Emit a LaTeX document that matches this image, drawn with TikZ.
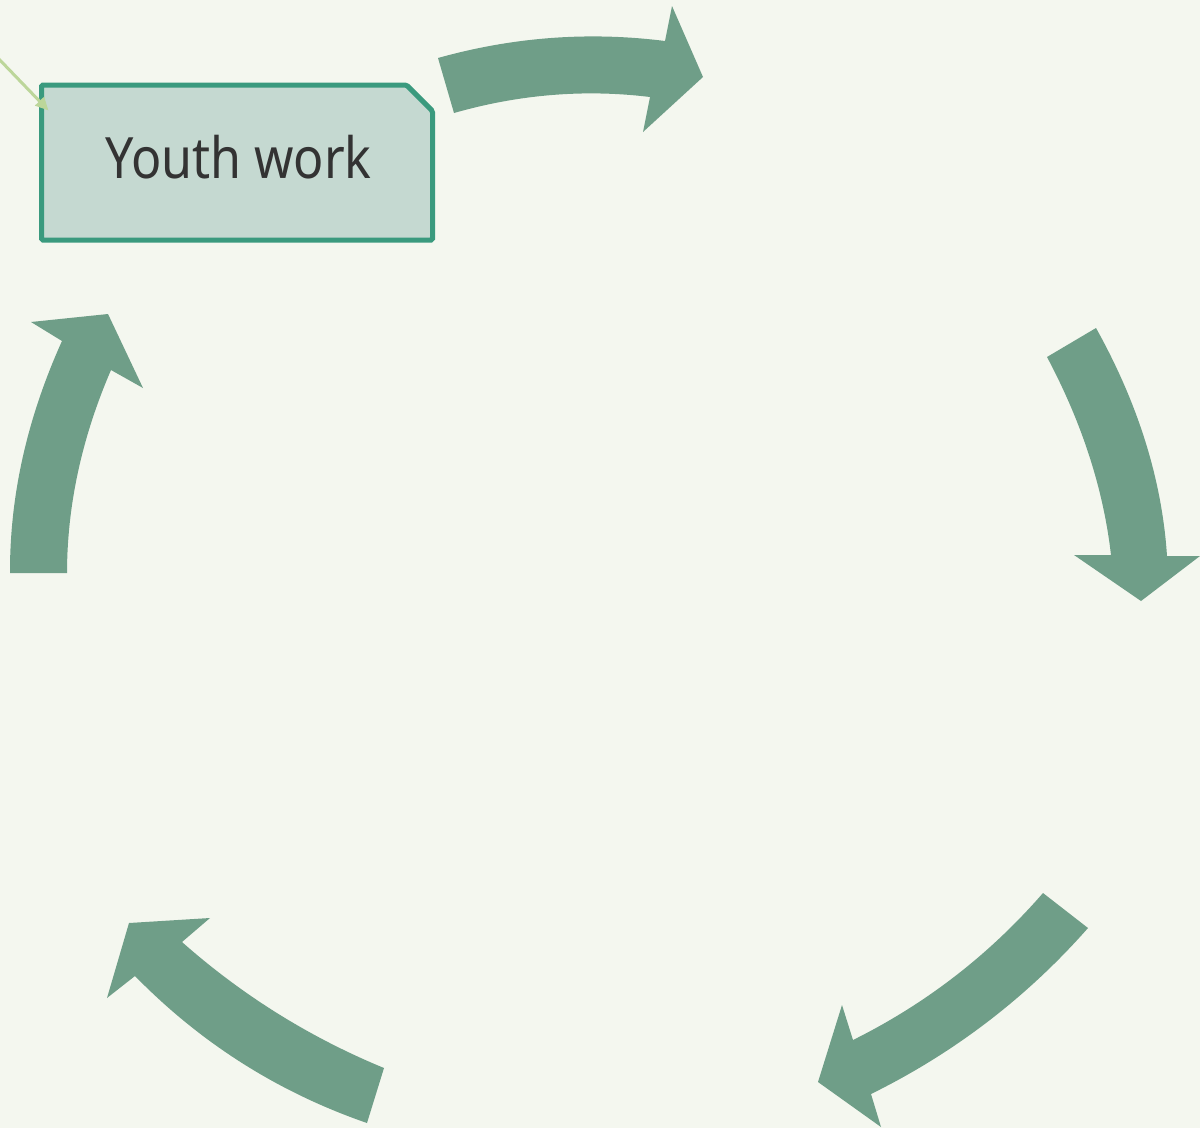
\documentclass[tikz,border=0pt]{standalone}
\usepackage{fontspec}
\setmainfont{Noto Sans}[FakeStretch=0.88]
\usetikzlibrary{arrows.meta}
\definecolor{bg}{HTML}{F4F7EF}
\definecolor{arrowgreen}{HTML}{6F9E88}
\definecolor{boxfill}{HTML}{C5D9D1}
\definecolor{boxline}{HTML}{3A9A7E}
\definecolor{textgray}{HTML}{333333}
\definecolor{linkgreen}{HTML}{BCD69A}
\tikzset{
  arr/.style={fill=arrowgreen},
  boxshape/.style={draw=boxline, fill=boxfill, line width=5pt, rounded corners=1.5pt},
  label/.style={text=textgray, font=\fontsize{57}{68}\selectfont, inner sep=0pt},
  link/.style={draw=linkgreen, line width=3pt, -{Triangle[length=13pt,width=12pt]}}
}
\begin{document}
\begin{tikzpicture}[x=1pt,y=-1pt]
\fill[bg] (0,0) rectangle (1200,1128);
\useasboundingbox (0,0) rectangle (1200,1128);
% top arrow
\fill[arr] (438,58) .. controls (513,37) and (588.67,31.33) .. (665,41) -- (672,6) -- (703,77) -- (643,132) -- (650,97) .. controls (584.67,89) and (519.33,94.33) .. (454,113) -- cycle;
% right arrow
\fill[arr] (1096,328) .. controls (1138.33,404) and (1162,480) .. (1167,556) -- (1200,556) -- (1141,601) -- (1074,555) -- (1111,555) .. controls (1103.4,489) and (1082.07,423) .. (1047,357) -- cycle;
% bottom-right arrow
\fill[arr] (1088,928) .. controls (1026.6,997.6) and (954.27,1052.93) .. (871,1094) -- (881,1127) -- (818,1082) -- (842,1005) -- (853,1040) .. controls (926.07,1003.67) and (989.4,954.67) .. (1043,893) -- cycle;
% bottom-left arrow
\fill[arr] (367,1123) .. controls (278.13,1092.27) and (200.8,1043.27) .. (135,976) -- (107,998) -- (129,923) -- (210,918) -- (182,942) .. controls (242.27,995.33) and (309.6,1037.33) .. (384,1068) -- cycle;
% left arrow
\fill[arr] (10,573) .. controls (9.73,495.67) and (27.07,418.33) .. (62,341) -- (31,322) -- (108,314) -- (143,388) -- (111,370) .. controls (81.8,437.67) and (67.13,505.33) .. (67,573) -- cycle;
% box
\path[boxshape] (41.5,85) -- (406.5,85) -- (432.5,111) -- (432.5,240) -- (41.5,240) -- cycle;
\node[label] (yw) at (238.5,157) {Youth work};
% incoming link
\coordinate (src) at (-30,29);
\coordinate (tip) at (48.5,110.5);
\draw[link] (src) -- (tip);
\end{tikzpicture}
\end{document}
